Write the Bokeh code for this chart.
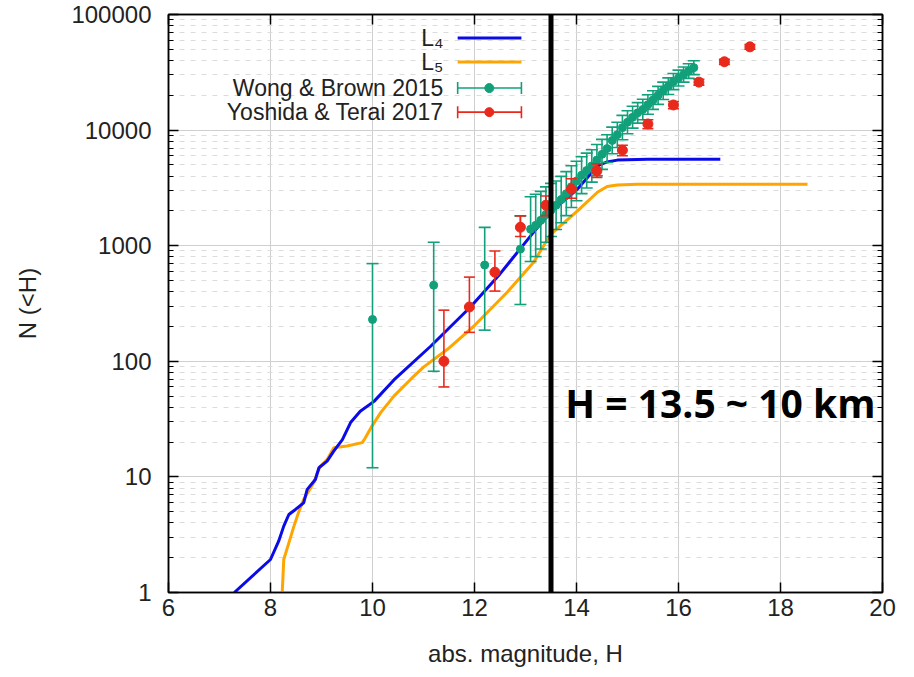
from bokeh.plotting import figure
from bokeh.models import (Span, Label, LinearAxis, LogAxis, FixedTicker, Range1d,
                          CustomJSTickFormatter, ColumnDataSource)
from bokeh.embed import file_html
from bokeh.resources import INLINE

# ---------------- data ----------------
l4_h = [7.29, 8.0, 8.16, 8.26, 8.36, 8.49, 8.65, 8.72, 8.88, 8.95, 9.11, 9.24, 9.41, 9.57,
        9.76, 10.03, 10.42, 11.14, 11.92, 12.5, 13.16, 13.49, 14.02, 14.41, 14.6, 14.8,
        15.4, 16.82]
l4_n = [1.0, 1.93, 2.78, 3.75, 4.73, 5.23, 5.97, 7.8, 9.5, 12, 13.7, 16.7, 21, 29.5,
        37, 45, 69, 135, 295, 570, 1310, 1950, 3090, 4900, 5300, 5500, 5600, 5600]

l5_h = [8.23, 8.26, 8.36, 8.46, 8.56, 8.65, 8.85, 8.92, 8.98, 9.11, 9.24, 9.5, 9.8, 9.86,
        9.99, 10.16, 10.42, 10.75, 11.0, 11.47, 11.98, 12.65, 13.16, 13.49, 14.02, 14.41,
        14.6, 14.8, 15.2, 18.53]
l5_n = [1.0, 1.93, 2.69, 3.75, 5.06, 6.37, 8.93, 10.9, 12.4, 14.1, 17.9, 18.5, 19.8, 21.8,
        27.5, 36, 50, 70, 89, 127, 200, 400, 720, 1250, 2000, 2900, 3250, 3350, 3400, 3400]

wb_h = [10.0, 11.2, 12.2, 12.9, 13.1, 13.2, 13.3, 13.4, 13.5, 13.6, 13.7, 13.8, 13.9, 14.0,
        14.1, 14.2, 14.3, 14.4, 14.5, 14.6, 14.7, 14.8, 14.9, 15.0, 15.1, 15.2, 15.3, 15.4,
        15.5, 15.6, 15.7, 15.8, 15.9, 16.0, 16.1, 16.2, 16.3]
wb_n = [230, 455, 680, 935, 1390, 1500, 1660, 1860, 2040, 2240, 2510, 2820, 3240, 3630,
        4070, 4470, 4900, 5500, 6170, 6920, 8130, 9120, 10500, 11700, 12900, 14100, 15100,
        16600, 18200, 20000, 21900, 24000, 26300, 28200, 30200, 32400, 34700]
wb_lo = [12, 82, 186, 310, 730, 805, 935, 1070, 1200, 1380, 1580, 1820, 2140, 2450,
         2820, 3160, 3550, 4030, 4570, 5250, 6240, 7080, 8240, 9290, 10400, 11500, 12300,
         13700, 15100, 16700, 18400, 20300, 22400, 24100, 26000, 28000, 30200]
wb_hi = [700, 1070, 1440, 1810, 2650, 2790, 2950, 3230, 3460, 3630, 3980, 4370, 4910, 5370,
         5880, 6320, 6760, 7510, 8320, 9120, 10600, 11700, 13400, 14700, 16100, 17300, 18500,
         20200, 21900, 23900, 26000, 28300, 30900, 33000, 35100, 37500, 39800]

yt_h = [11.4, 11.9, 12.4, 12.9, 13.4, 13.9, 14.4, 14.9, 15.4, 15.9, 16.4, 16.9, 17.4]
yt_n = [100, 295, 590, 1445, 2240, 3090, 4440, 6700, 11300, 16500, 26000, 39000, 52500]
yt_lo = [60, 178, 405, 1200, 1820, 2570, 3900, 6000, 10300, 15300, 24500, 37000, 50000]
yt_hi = [277, 535, 900, 1810, 2690, 3800, 5100, 7400, 12300, 17700, 27500, 41000, 55000]

x_ticks = [6, 8, 10, 12, 14, 16, 18, 20]
y_ticks = [1, 10, 100, 1000, 10000, 100000]
y_minor = [m * d for d in [1, 10, 100, 1000, 10000] for m in range(2, 10)]

series_labels = ["L\u2084", "L\u2085", "Wong & Brown 2015", "Yoshida & Terai 2017"]
h_cut = 13.5
cut_text = "H = 13.5 ~ 10 km"

# ---------------- style ----------------
BLUE = "#0b0be8"
ORANGE = "#ffa500"
GREEN = "#12a07a"
RED = "#e8291c"
FONT = "Liberation Sans"

p = figure(width=906, height=669, x_range=Range1d(6, 20), y_range=Range1d(1, 1e5),
           y_axis_type="log", output_backend="svg", toolbar_location=None,
           min_border_left=168, min_border_right=24, min_border_top=14, min_border_bottom=76)
p.background_fill_color = "white"
p.border_fill_color = "white"
p.outline_line_color = "black"
p.outline_line_width = 1.5

xt = FixedTicker(ticks=x_ticks, minor_ticks=[])
yt = FixedTicker(ticks=y_ticks, minor_ticks=y_minor)
fmt = CustomJSTickFormatter(code="return Math.round(tick).toString();")

xa = p.xaxis[0]
xa.ticker = xt
ya = p.yaxis[0]
ya.ticker = yt
ya.formatter = fmt

for ax in (xa, ya):
    ax.major_tick_in = 10
    ax.major_tick_out = 0
    ax.minor_tick_in = 5
    ax.minor_tick_out = 0
    ax.axis_line_color = "black"
    ax.axis_line_width = 1.5
    ax.major_tick_line_width = 1.5
    ax.major_label_text_font = FONT
    ax.major_label_text_font_size = "24px"
    ax.major_label_text_color = "#222222"
    ax.axis_label_text_font = FONT
    ax.axis_label_text_font_size = "24px"
    ax.axis_label_text_font_style = "normal"
    ax.axis_label_text_color = "#222222"

xa.axis_label = "abs. magnitude, H"
xa.major_label_standoff = 6
xa.axis_label_standoff = 21
ya.axis_label = "N (<H)"
ya.major_label_standoff = 17
ya.axis_label_standoff = 27

# mirrored tick axes (no labels)
top = LinearAxis(ticker=xt, major_label_text_font_size="1px", major_label_text_color=None,
                 major_label_standoff=0,
                 major_tick_in=10, major_tick_out=0, axis_line_width=1.5,
                 major_tick_line_width=1.5)
right = LogAxis(ticker=yt, major_label_text_font_size="1px", major_label_text_color=None,
                major_label_standoff=0, formatter=fmt,
                major_tick_in=10, major_tick_out=0, minor_tick_in=5, minor_tick_out=0,
                axis_line_width=1.5, major_tick_line_width=1.5)
p.add_layout(top, "above")
p.add_layout(right, "right")

p.xgrid.ticker = xt
p.xgrid.grid_line_color = "#cfcfcf"
p.xgrid.grid_line_width = 1
p.ygrid.ticker = yt
p.ygrid.grid_line_color = "#cfcfcf"
p.ygrid.grid_line_width = 1
p.ygrid.minor_grid_line_color = "#dcdcdc"
p.ygrid.minor_grid_line_dash = "5 6"
p.ygrid.minor_grid_line_width = 1

# curves
p.line(l5_h, l5_n, line_color=ORANGE, line_width=3)
p.line(l4_h, l4_n, line_color=BLUE, line_width=3)

# Wong & Brown error bars
wb = ColumnDataSource(dict(h=wb_h, n=wb_n, lo=wb_lo, hi=wb_hi))
p.segment(x0="h", y0="lo", x1="h", y1="hi", source=wb, line_color=GREEN, line_width=1.6)
p.scatter("h", "lo", source=wb, marker="dash", size=12, line_color=GREEN, line_width=1.6)
p.scatter("h", "hi", source=wb, marker="dash", size=12, line_color=GREEN, line_width=1.6)
p.scatter("h", "n", source=wb, marker="circle", size=8, fill_color=GREEN, line_color=GREEN)

# Yoshida & Terai error bars
yts = ColumnDataSource(dict(h=yt_h, n=yt_n, lo=yt_lo, hi=yt_hi))
p.segment(x0="h", y0="lo", x1="h", y1="hi", source=yts, line_color=RED, line_width=1.6)
p.scatter("h", "lo", source=yts, marker="dash", size=11, line_color=RED, line_width=1.6)
p.scatter("h", "hi", source=yts, marker="dash", size=11, line_color=RED, line_width=1.6)
p.scatter("h", "n", source=yts, marker="circle", size=10, fill_color=RED, line_color=RED)

# vertical cut line & annotation
p.add_layout(Span(location=h_cut, dimension="height", line_color="black", line_width=5))
p.add_layout(Label(x=13.78, y=44, text=cut_text, text_font="Open Sans",
                   text_font_style="bold", text_font_size="39px", text_color="black",
                   text_baseline="middle"))

# legend (gnuplot style: text left, sample right)
leg_text_x = 11.39
leg_x0, leg_x1, leg_xc = 11.67, 12.92, 12.29
leg_y = [62700, 38800, 23100, 14300]
leg_colors = [BLUE, ORANGE, GREEN, RED]
for i, (lab, col) in enumerate(zip(series_labels, leg_colors)):
    p.add_layout(Label(x=leg_text_x, y=leg_y[i], text=lab, text_align="right",
                       text_baseline="middle", text_font=FONT,
                       text_font_size="23px", text_color="#222222"))
p.segment(x0=[leg_x0] * 2, y0=leg_y[:2], x1=[leg_x1] * 2, y1=leg_y[:2],
          line_color=leg_colors[:2], line_width=3)
p.segment(x0=[leg_x0] * 2, y0=leg_y[2:], x1=[leg_x1] * 2, y1=leg_y[2:],
          line_color=leg_colors[2:], line_width=1.6)
p.scatter([leg_x0, leg_x1, leg_x0, leg_x1], [leg_y[2], leg_y[2], leg_y[3], leg_y[3]],
          marker="dash", angle=1.5708, size=12,
          line_color=[GREEN, GREEN, RED, RED], line_width=1.6)
p.scatter([leg_xc, leg_xc], leg_y[2:], marker="circle", size=9,
          fill_color=[GREEN, RED], line_color=[GREEN, RED])

open("out.html", "w").write(file_html(p, INLINE))
